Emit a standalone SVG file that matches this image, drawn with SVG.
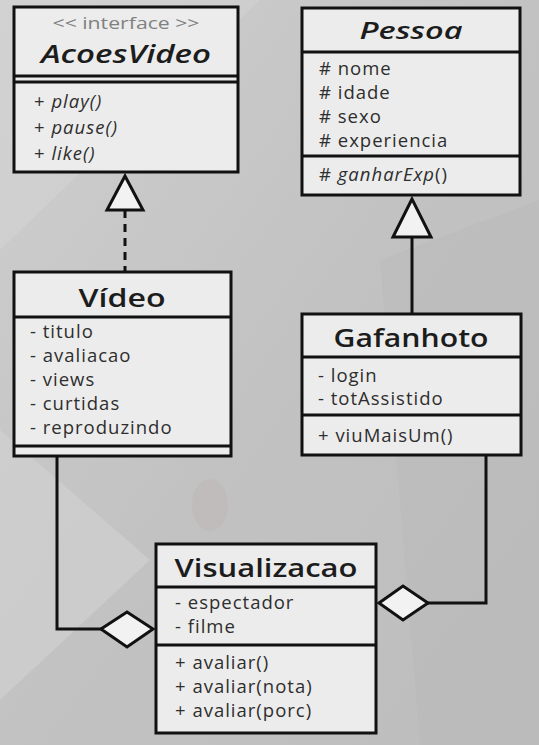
<svg xmlns="http://www.w3.org/2000/svg" width="539" height="745" viewBox="0 0 539 745">
<defs>
<linearGradient id="bg" x1="0" y1="0" x2="1" y2="1">
<stop offset="0" stop-color="#cfcfcf"/>
<stop offset="0.5" stop-color="#c2c2c2"/>
<stop offset="1" stop-color="#bdbdbd"/>
</linearGradient>
<style>
.box{fill:#ececec;stroke:#111;stroke-width:3}
.sep{stroke:#111;stroke-width:3;fill:none}
.title{font-family:"Open Sans","DejaVu Sans",sans-serif;font-weight:600;fill:#1c1c1c;text-anchor:middle}
.ital{font-style:italic}
.attr{font-family:"Open Sans","DejaVu Sans",sans-serif;font-size:18.5px;letter-spacing:1px;fill:#2e2e2e}
.stereo{font-family:"Open Sans","DejaVu Sans",sans-serif;font-size:17px;fill:#808080;text-anchor:middle}
.line{stroke:#111;stroke-width:3;fill:none}
.head{fill:#f2f2f2;stroke:#111;stroke-width:3;stroke-linejoin:miter}
</style>
</defs>
<rect width="539" height="745" fill="url(#bg)"/>
<polygon points="0,430 150,560 0,700" fill="#d2d2d2" opacity="0.6"/>
<polygon points="380,260 539,200 539,745 420,745" fill="#b8b8b8" opacity="0.35"/>
<polygon points="0,0 260,0 0,250" fill="#d6d6d6" opacity="0.4"/>
<ellipse cx="210" cy="505" rx="18" ry="26" fill="#b7a4a4" opacity="0.2"/>

<g id="connectors">
<path class="line" d="M125 210 V272" stroke-dasharray="8 6"/>
<polygon class="head" points="125,176 107,210 143,210"/>
<path class="line" d="M412 237 V314"/>
<polygon class="head" points="412,199 393,237 431,237"/>
<path class="line" d="M57 456 V629 H101"/>
<polygon class="head" points="101,629 127,612 153,629 127,647"/>
<path class="line" d="M486 455 V603 H428"/>
<polygon class="head" points="379,603 403,586 428,603 403,620"/>
</g>

<g id="AcoesVideo">
<rect class="box" x="14" y="7" width="224" height="165"/>
<line class="sep" x1="14" y1="76" x2="238" y2="76"/>
<line class="sep" x1="14" y1="82" x2="238" y2="82"/>
<text class="stereo" x="126" y="29" textLength="147" lengthAdjust="spacingAndGlyphs">&lt;&lt; interface &gt;&gt;</text>
<text class="title ital" x="126" y="63" font-size="25" font-weight="700" textLength="170" lengthAdjust="spacingAndGlyphs">AcoesVideo</text>
<text class="attr" x="34" y="108">+ <tspan class="ital">play()</tspan></text>
<text class="attr" x="34" y="134">+ <tspan class="ital">pause()</tspan></text>
<text class="attr" x="34" y="160">+ <tspan class="ital">like()</tspan></text>
</g>

<g id="Pessoa">
<rect class="box" x="302" y="8" width="218" height="187"/>
<line class="sep" x1="302" y1="52" x2="520" y2="52"/>
<line class="sep" x1="302" y1="156" x2="520" y2="156"/>
<text class="title ital" x="411" y="39" font-size="23" font-weight="700" textLength="103" lengthAdjust="spacingAndGlyphs">Pessoa</text>
<text class="attr" x="319" y="75">#  nome</text>
<text class="attr" x="319" y="99">#  idade</text>
<text class="attr" x="319" y="123">#  sexo</text>
<text class="attr" x="319" y="147">#  experiencia</text>
<text class="attr" x="319" y="181">#  <tspan class="ital">ganharExp</tspan>()</text>
</g>

<g id="Video">
<rect class="box" x="14" y="272" width="217" height="184"/>
<line class="sep" x1="14" y1="317" x2="231" y2="317"/>
<line class="sep" x1="14" y1="446" x2="231" y2="446"/>
<text class="title" x="122" y="307" font-size="26" textLength="87" lengthAdjust="spacingAndGlyphs">Vídeo</text>
<text class="attr" x="30" y="338">- titulo</text>
<text class="attr" x="30" y="362">- avaliacao</text>
<text class="attr" x="30" y="386">- views</text>
<text class="attr" x="30" y="410">- curtidas</text>
<text class="attr" x="30" y="434">- reproduzindo</text>
</g>

<g id="Gafanhoto">
<rect class="box" x="302" y="314" width="219" height="141"/>
<line class="sep" x1="302" y1="357" x2="521" y2="357"/>
<line class="sep" x1="302" y1="415" x2="521" y2="415"/>
<text class="title" x="411" y="347" font-size="26" textLength="155" lengthAdjust="spacingAndGlyphs" fill="#333">Gafanhoto</text>
<text class="attr" x="318" y="382">- login</text>
<text class="attr" x="318" y="405">- totAssistido</text>
<text class="attr" x="318" y="442">+ viuMaisUm()</text>
</g>

<g id="Visualizacao">
<rect class="box" x="156" y="544" width="220" height="189"/>
<line class="sep" x1="156" y1="587" x2="376" y2="587"/>
<line class="sep" x1="156" y1="645" x2="376" y2="645"/>
<text class="title" x="266" y="577" font-size="26" textLength="183" lengthAdjust="spacingAndGlyphs">Visualizacao</text>
<text class="attr" x="175" y="609">- espectador</text>
<text class="attr" x="175" y="633">- filme</text>
<text class="attr" x="175" y="669">+ avaliar()</text>
<text class="attr" x="175" y="693">+ avaliar(nota)</text>
<text class="attr" x="175" y="717">+ avaliar(porc)</text>
</g>
</svg>
